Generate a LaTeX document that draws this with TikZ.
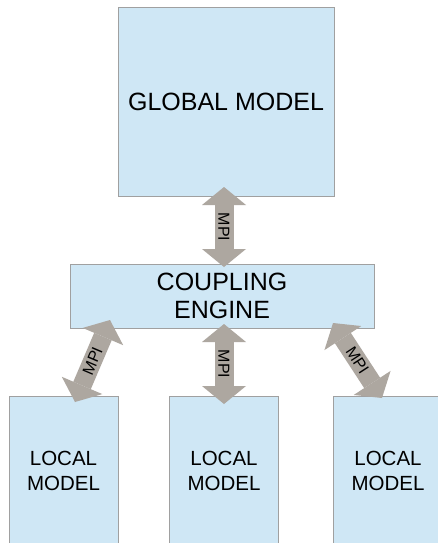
\documentclass[tikz,border=0pt]{standalone}
\usepackage{fontspec}
\setmainfont{Liberation Sans}
\usetikzlibrary{arrows.meta,positioning}
\definecolor{boxblue}{RGB}{207,231,245}
\definecolor{boxline}{RGB}{160,160,160}
\definecolor{mpigray}{RGB}{173,167,160}

\tikzset{
  model/.style={draw=boxline, fill=boxblue, inner sep=0pt, align=center, text=black},
  mpi/.style={draw=mpigray, line width=19pt, >={Triangle[width=44pt,length=18pt,line width=0pt]}, <->},
  mpitext/.style={font=\fontsize{16}{18}\selectfont, inner sep=0pt}
}

\begin{document}
\begin{tikzpicture}[x=1pt,y=-1pt]
\clip (0,0) rectangle (438,543);
\fill[white] (0,0) rectangle (438,543);

% Draw the model boxes
\node[model, minimum width=216pt, minimum height=189pt, font=\fontsize{25}{29}\selectfont] (global) at (226,101.5) {GLOBAL MODEL};
\node[model, minimum width=304pt, minimum height=64pt, font=\fontsize{25}{28.5}\selectfont] (engine) at (222,296) {COUPLING\\ENGINE};
\foreach \i/\x in {1/63.5, 2/224, 3/388} {
    \node[model, minimum width=109pt, minimum height=150pt, font=\fontsize{20.5}{25}\selectfont] (local\i) at (\x,471) {LOCAL\\MODEL};
}

% End points of the MPI arrows
\coordinate (g0) at (224,187);
\coordinate (e0) at (224,267);
\coordinate (e1) at (110,320);
\coordinate (e2) at (224,324);
\coordinate (e3) at (333,323);
\coordinate (l1) at (75,402);
\coordinate (l2) at (224,404);
\coordinate (l3) at (382,398);

% Draw the MPI arrows
\draw[mpi] (g0) -- (e0) node[midway, mpitext, rotate=-90] {MPI};
\draw[mpi] (e1) -- (l1) node[midway, mpitext, rotate=67] {MPI};
\draw[mpi] (e2) -- (l2) node[midway, mpitext, rotate=-90] {MPI};
\draw[mpi] (e3) -- (l3) node[midway, mpitext, rotate=-57] {MPI};

\end{tikzpicture}
\end{document}
